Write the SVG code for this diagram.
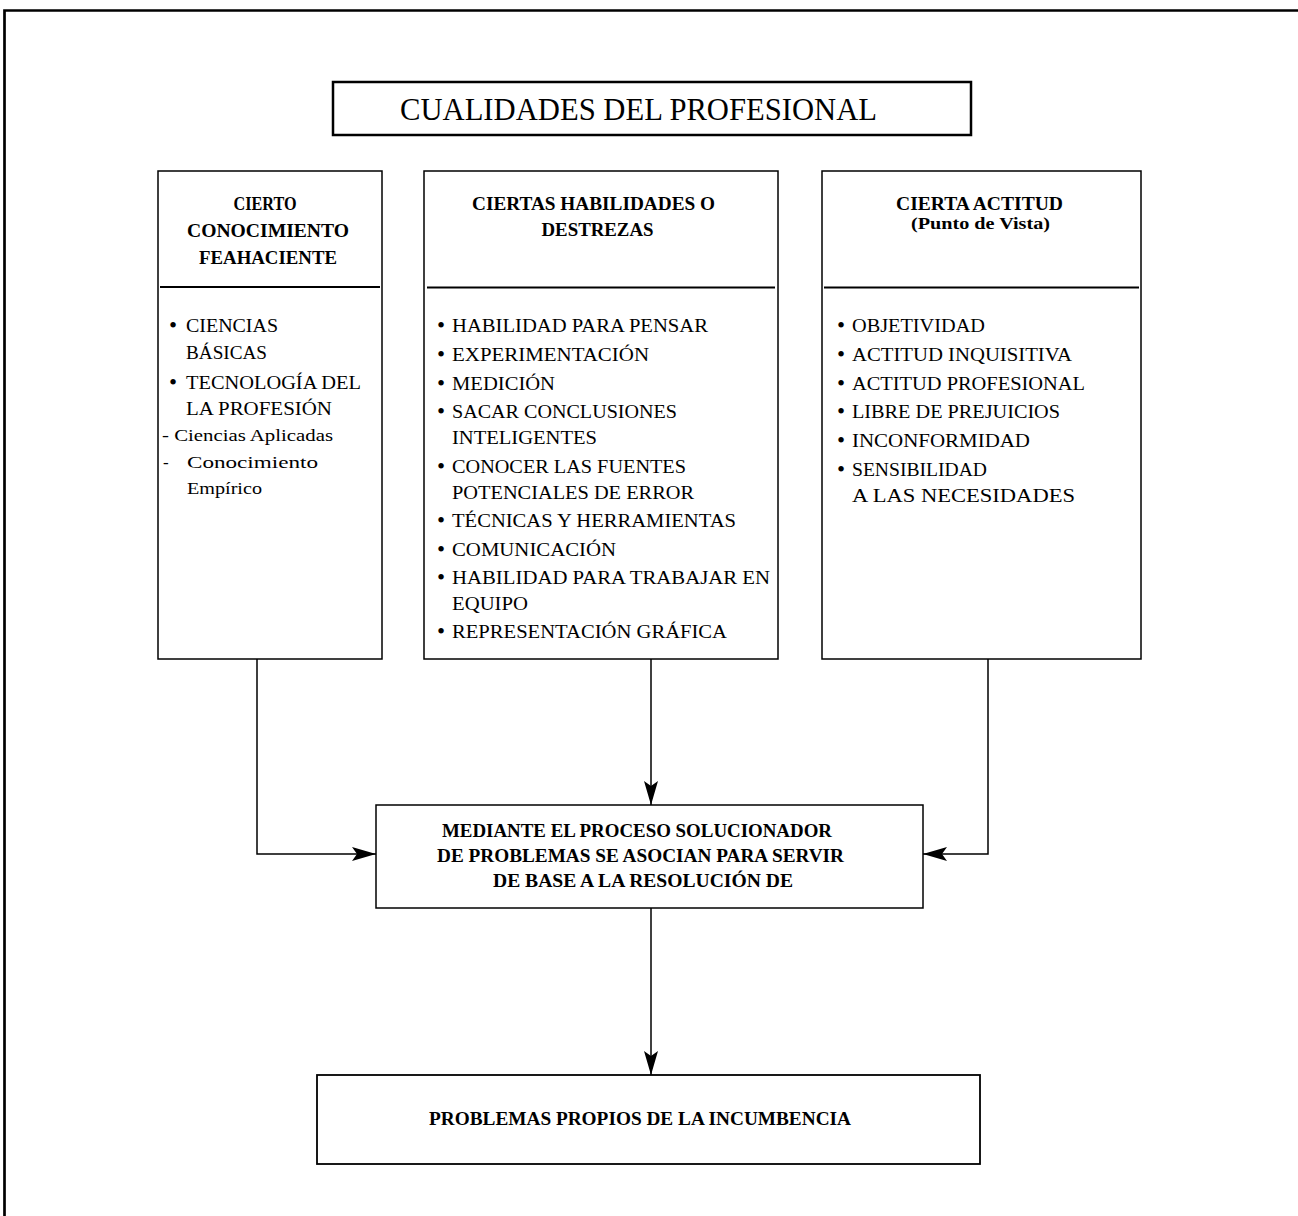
<svg xmlns="http://www.w3.org/2000/svg" width="1298" height="1216" viewBox="0 0 1298 1216">
<defs>
<style>
.box{fill:#fff;stroke:#000;stroke-width:1.5}
.div{stroke:#000;stroke-width:2}
.t{font-family:"Liberation Serif","Times New Roman",serif;fill:#000}
.title{font-size:32px}
.h{font-size:18px;font-weight:bold;text-anchor:middle}
.hs{font-size:16px;font-weight:bold;text-anchor:middle}
.i{font-size:19.5px}
.b{font-size:23px}
.s{font-size:17px}
.p{font-size:18px;font-weight:bold;text-anchor:middle}
.con{fill:none;stroke:#000;stroke-width:1.5}
</style>
<marker id="arr" viewBox="0 0 24 14" refX="24" refY="7" markerWidth="24" markerHeight="14" markerUnits="userSpaceOnUse" orient="auto">
<path d="M0,0 L24,7 L0,14 L5,7 z" fill="#000"/>
</marker>
</defs>
<rect width="1298" height="1216" fill="#fff"/>
<path d="M1298,10.5 H4.5 V1216" fill="none" stroke="#000" stroke-width="2.7"/>

<g id="title">
<rect x="333" y="82" width="638" height="53" fill="#fff" stroke="#000" stroke-width="2.5"/>
<text class="t title" x="400" y="120" textLength="477" lengthAdjust="spacingAndGlyphs">CUALIDADES DEL PROFESIONAL</text>
</g>

<g id="conocimiento">
<rect class="box" x="158" y="171" width="224" height="488"/>
<line class="div" x1="160" y1="287" x2="380" y2="287"/>
<text class="t h" x="265" y="210" textLength="63" lengthAdjust="spacingAndGlyphs">CIERTO</text>
<text class="t h" x="268" y="237" textLength="162" lengthAdjust="spacingAndGlyphs">CONOCIMIENTO</text>
<text class="t h" x="268" y="264" textLength="138" lengthAdjust="spacingAndGlyphs">FEAHACIENTE</text>
<text class="t b" x="169" y="333">•</text>
<text class="t i" x="186" y="332" textLength="92" lengthAdjust="spacingAndGlyphs">CIENCIAS</text>
<text class="t i" x="186" y="358.5" textLength="81" lengthAdjust="spacingAndGlyphs">BÁSICAS</text>
<text class="t b" x="169" y="389.5">•</text>
<text class="t i" x="186" y="388.5" textLength="175" lengthAdjust="spacingAndGlyphs">TECNOLOGÍA DEL</text>
<text class="t i" x="186" y="415" textLength="146" lengthAdjust="spacingAndGlyphs">LA PROFESIÓN</text>
<text class="t s" x="162" y="441" textLength="171" lengthAdjust="spacingAndGlyphs">- Ciencias Aplicadas</text>
<text class="t s" x="163" y="467.5">-</text>
<text class="t s" x="187" y="467.5" textLength="131" lengthAdjust="spacingAndGlyphs">Conocimiento</text>
<text class="t s" x="187" y="494" textLength="75" lengthAdjust="spacingAndGlyphs">Empírico</text>
</g>

<g id="habilidades">
<rect class="box" x="424" y="171" width="354" height="488"/>
<line class="div" x1="427" y1="287.5" x2="775" y2="287.5"/>
<text class="t h" x="593.5" y="210" textLength="243" lengthAdjust="spacingAndGlyphs">CIERTAS HABILIDADES O</text>
<text class="t h" x="597.5" y="236" textLength="112" lengthAdjust="spacingAndGlyphs">DESTREZAS</text>
<text class="t b" x="437" y="333">•</text>
<text class="t i" x="452" y="332" textLength="256" lengthAdjust="spacingAndGlyphs">HABILIDAD PARA PENSAR</text>
<text class="t b" x="437" y="362">•</text>
<text class="t i" x="452" y="361" textLength="197" lengthAdjust="spacingAndGlyphs">EXPERIMENTACIÓN</text>
<text class="t b" x="437" y="391">•</text>
<text class="t i" x="452" y="390" textLength="103" lengthAdjust="spacingAndGlyphs">MEDICIÓN</text>
<text class="t b" x="437" y="419">•</text>
<text class="t i" x="452" y="418" textLength="225" lengthAdjust="spacingAndGlyphs">SACAR CONCLUSIONES</text>
<text class="t i" x="452" y="444" textLength="145" lengthAdjust="spacingAndGlyphs">INTELIGENTES</text>
<text class="t b" x="437" y="474">•</text>
<text class="t i" x="452" y="473" textLength="234" lengthAdjust="spacingAndGlyphs">CONOCER LAS FUENTES</text>
<text class="t i" x="452" y="499" textLength="242" lengthAdjust="spacingAndGlyphs">POTENCIALES DE ERROR</text>
<text class="t b" x="437" y="528">•</text>
<text class="t i" x="452" y="527" textLength="284" lengthAdjust="spacingAndGlyphs">TÉCNICAS Y HERRAMIENTAS</text>
<text class="t b" x="437" y="557">•</text>
<text class="t i" x="452" y="556" textLength="164" lengthAdjust="spacingAndGlyphs">COMUNICACIÓN</text>
<text class="t b" x="437" y="585">•</text>
<text class="t i" x="452" y="584" textLength="318" lengthAdjust="spacingAndGlyphs">HABILIDAD PARA TRABAJAR EN</text>
<text class="t i" x="452" y="610" textLength="76" lengthAdjust="spacingAndGlyphs">EQUIPO</text>
<text class="t b" x="437" y="639">•</text>
<text class="t i" x="452" y="638" textLength="275" lengthAdjust="spacingAndGlyphs">REPRESENTACIÓN GRÁFICA</text>
</g>

<g id="actitud">
<rect class="box" x="822" y="171" width="319" height="488"/>
<line class="div" x1="824" y1="287.5" x2="1139" y2="287.5"/>
<text class="t h" x="979.5" y="210" textLength="167" lengthAdjust="spacingAndGlyphs">CIERTA ACTITUD</text>
<text class="t hs" x="980.5" y="229" textLength="139" lengthAdjust="spacingAndGlyphs">(Punto de Vista)</text>
<text class="t b" x="837" y="333">•</text>
<text class="t i" x="852" y="332" textLength="133" lengthAdjust="spacingAndGlyphs">OBJETIVIDAD</text>
<text class="t b" x="837" y="362">•</text>
<text class="t i" x="852" y="361" textLength="220" lengthAdjust="spacingAndGlyphs">ACTITUD INQUISITIVA</text>
<text class="t b" x="837" y="391">•</text>
<text class="t i" x="852" y="390" textLength="233" lengthAdjust="spacingAndGlyphs">ACTITUD PROFESIONAL</text>
<text class="t b" x="837" y="419">•</text>
<text class="t i" x="852" y="418" textLength="208" lengthAdjust="spacingAndGlyphs">LIBRE DE PREJUICIOS</text>
<text class="t b" x="837" y="448">•</text>
<text class="t i" x="852" y="447" textLength="178" lengthAdjust="spacingAndGlyphs">INCONFORMIDAD</text>
<text class="t b" x="837" y="477">•</text>
<text class="t i" x="852" y="476" textLength="135" lengthAdjust="spacingAndGlyphs">SENSIBILIDAD</text>
<text class="t i" x="852" y="502" textLength="223" lengthAdjust="spacingAndGlyphs">A LAS NECESIDADES</text>
</g>

<g id="proceso">
<rect class="box" x="376" y="805" width="547" height="103"/>
<text class="t p" x="637" y="837" textLength="390" lengthAdjust="spacingAndGlyphs">MEDIANTE EL PROCESO SOLUCIONADOR</text>
<text class="t p" x="640.5" y="862" textLength="407" lengthAdjust="spacingAndGlyphs">DE PROBLEMAS SE ASOCIAN PARA SERVIR</text>
<text class="t p" x="643" y="887" textLength="300" lengthAdjust="spacingAndGlyphs">DE BASE A LA RESOLUCIÓN DE</text>
</g>

<g id="problemas">
<rect x="317" y="1075" width="663" height="89" fill="#fff" stroke="#000" stroke-width="1.8"/>
<text class="t p" x="640" y="1125" textLength="422" lengthAdjust="spacingAndGlyphs">PROBLEMAS PROPIOS DE LA INCUMBENCIA</text>
</g>

<g id="connectors">
<path class="con" d="M257,659 V854 H376" marker-end="url(#arr)"/>
<path class="con" d="M651,659 V805" marker-end="url(#arr)"/>
<path class="con" d="M988,659 V854 H923" marker-end="url(#arr)"/>
<path class="con" d="M651,908 V1075" marker-end="url(#arr)"/>
</g>
</svg>
